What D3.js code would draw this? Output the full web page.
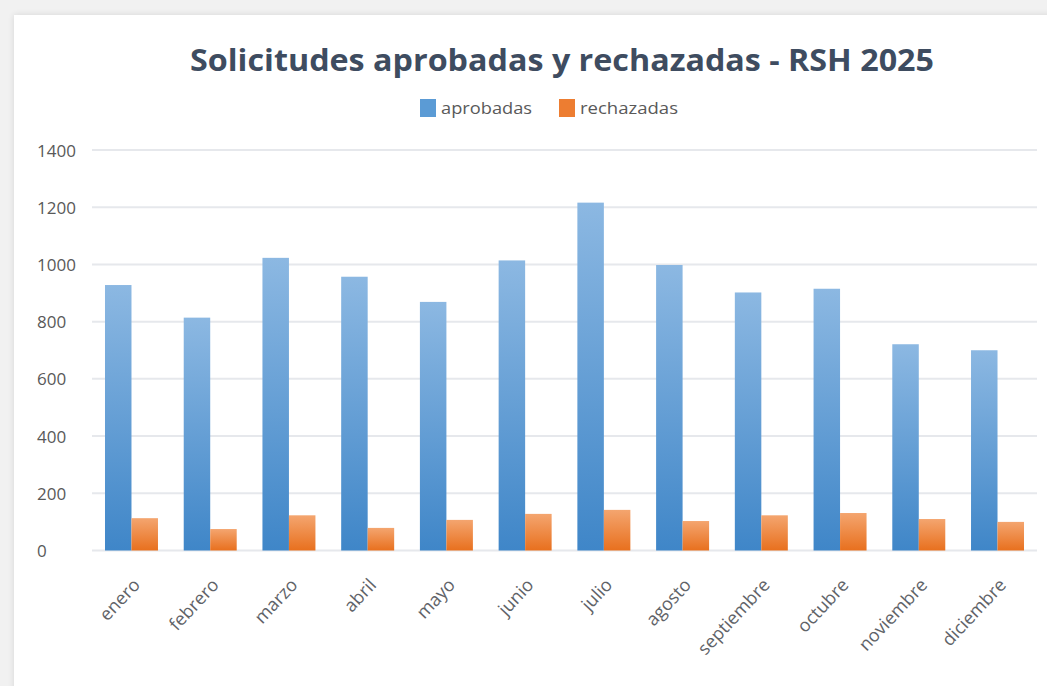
<!DOCTYPE html>
<html>
<head>
<meta charset="utf-8">
<script src="https://cdn.jsdelivr.net/npm/d3@7"></script>
<style>
  html, body { margin: 0; padding: 0; background: #ffffff; }
  svg { display: block; }
  text { font-family: "Open Sans", "Noto Sans", sans-serif; }
</style>
</head>
<body>
<svg id="chart" width="1047" height="686"></svg>
<script>
// Monthly RSH 2025 requests
const months = ["enero", "febrero", "marzo", "abril", "mayo", "junio",
                "julio", "agosto", "septiembre", "octubre", "noviembre", "diciembre"];
const aprobadas  = [928, 814, 1023, 957, 869, 1014, 1216, 998, 902, 915, 721, 700];
const rechazadas = [113, 75, 123, 79, 107, 128, 142, 103, 123, 131, 110, 100];
const seriesNames = ["aprobadas", "rechazadas"];
const yTicks = [0, 200, 400, 600, 800, 1000, 1200, 1400];
const titleText = "Solicitudes aprobadas y rechazadas - RSH 2025";

const W = 1047, H = 686;
const plot = { left: 92, right: 1037, top: 150, bottom: 550.5 };

const svg = d3.select("#chart");
const defs = svg.append("defs");

// window frame: grey strip at top/left, white card
svg.append("rect").attr("x", 0).attr("y", 0).attr("width", W).attr("height", H).attr("fill", "#f1f1f1");
const shadow = defs.append("filter").attr("id", "cardShadow").attr("x", "-5%").attr("y", "-5%").attr("width", "110%").attr("height", "110%");
shadow.append("feGaussianBlur").attr("in", "SourceAlpha").attr("stdDeviation", 3);
shadow.append("feOffset").attr("dx", 0).attr("dy", 0).attr("result", "b");
shadow.append("feComponentTransfer").append("feFuncA").attr("type", "linear").attr("slope", 0.12);
const fm = shadow.append("feMerge");
fm.append("feMergeNode");
fm.append("feMergeNode").attr("in", "SourceGraphic");
svg.append("rect").attr("x", 14).attr("y", 15).attr("width", W).attr("height", H)
   .attr("fill", "#ffffff").attr("filter", "url(#cardShadow)");

// gradients for the two series (per bar)
function grad(id, top, bottom) {
  const g = defs.append("linearGradient").attr("id", id)
    .attr("x1", 0).attr("y1", 0).attr("x2", 0).attr("y2", 1);
  g.append("stop").attr("offset", "0%").attr("stop-color", top);
  g.append("stop").attr("offset", "100%").attr("stop-color", bottom);
}
grad("gBlue", "#8cb8e2", "#3f86c8");
grad("gOrange", "#f4a56f", "#e8701e");
const fills = { aprobadas: "url(#gBlue)", rechazadas: "url(#gOrange)" };
const legendColors = { aprobadas: "#5b9bd5", rechazadas: "#ed7d31" };

// scales
const x0 = d3.scaleBand().domain(months).range([plot.left, plot.right])
  .paddingInner(0.327).paddingOuter(0.165);
const x1 = d3.scaleBand().domain(seriesNames).range([0, x0.bandwidth()]).padding(0);
const y = d3.scaleLinear().domain([0, 1400]).range([plot.bottom, plot.top]);

// gridlines
svg.append("g").selectAll("line").data(yTicks).join("line")
  .attr("x1", plot.left).attr("x2", plot.right)
  .attr("y1", d => y(d)).attr("y2", d => y(d))
  .attr("stroke", "#e6e8ec").attr("stroke-width", 2);

// y axis labels
const yAxis = d3.axisLeft(y).tickValues(yTicks).tickFormat(d3.format("d")).tickSize(0).tickPadding(0);
const yg = svg.append("g").attr("transform", "translate(37,0)").call(yAxis);
yg.select(".domain").remove();
yg.selectAll("text")
  .attr("text-anchor", "start").attr("x", 0).attr("dy", "0.36em")
  .attr("fill", "#595959").style("font-size", "17px");

// bars
const rows = months.map((m, i) => ({ month: m, aprobadas: aprobadas[i], rechazadas: rechazadas[i] }));
const groups = svg.append("g").selectAll("g").data(rows).join("g")
  .attr("transform", d => `translate(${x0(d.month)},0)`);
groups.selectAll("rect").data(d => seriesNames.map(k => ({ key: k, value: d[k] }))).join("rect")
  .attr("x", d => x1(d.key))
  .attr("y", d => y(d.value))
  .attr("width", x1.bandwidth())
  .attr("height", d => y(0) - y(d.value))
  .attr("fill", d => fills[d.key]);

// x axis labels, rotated
const xAxis = d3.axisBottom(x0).tickSize(0).tickPadding(0);
const xg = svg.append("g").attr("transform", `translate(0,${plot.bottom})`).call(xAxis);
xg.select(".domain").remove();
xg.selectAll(".tick text")
  .attr("text-anchor", "end")
  .attr("transform", "translate(5,31) rotate(-47)")
  .attr("dy", "0.35em").attr("y", 0)
  .attr("fill", "#5f6368").style("font-size", "18px");

// title
svg.append("text").attr("x", 562).attr("y", 71).attr("text-anchor", "middle")
  .attr("fill", "#3e4c60").style("font-size", "31px").style("font-weight", "700")
  .attr("textLength", 744).attr("lengthAdjust", "spacingAndGlyphs")
  .text(titleText);

// legend
const legendItems = [
  { key: "aprobadas", sx: 420, tx: 441, tw: 91 },
  { key: "rechazadas", sx: 559, tx: 580, tw: 98 }
];
const lg = svg.append("g");
lg.selectAll("rect").data(legendItems).join("rect")
  .attr("x", d => d.sx).attr("y", 99).attr("width", 16).attr("height", 18)
  .attr("fill", d => legendColors[d.key]);
lg.selectAll("text").data(legendItems).join("text")
  .attr("x", d => d.tx).attr("y", 114)
  .attr("fill", "#595959").style("font-size", "16px")
  .attr("textLength", d => d.tw).attr("lengthAdjust", "spacingAndGlyphs")
  .text(d => d.key);
</script>
</body>
</html>
